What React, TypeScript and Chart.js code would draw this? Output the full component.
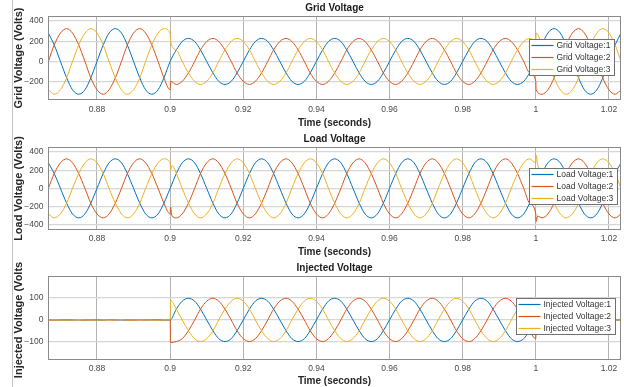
import React, { useEffect, useRef } from 'react';
import { Chart, registerables } from 'chart.js';

Chart.register(...registerables);

// ---------- data ----------
const timeS = [
  0.8667, 0.8683, 0.8700, 0.8717, 0.8733, 0.8750, 0.8767, 0.8783, 0.8800, 0.8817, 0.8833, 0.8850,
  0.8867, 0.8883, 0.8900, 0.8917, 0.8933, 0.8950, 0.8967, 0.8983, 0.9000, 0.9017, 0.9033, 0.9050,
  0.9067, 0.9083, 0.9100, 0.9117, 0.9133, 0.9150, 0.9167, 0.9183, 0.9200, 0.9217, 0.9233, 0.9250,
  0.9267, 0.9283, 0.9300, 0.9317, 0.9333, 0.9350, 0.9367, 0.9383, 0.9400, 0.9417, 0.9433, 0.9450,
  0.9467, 0.9483, 0.9500, 0.9517, 0.9533, 0.9550, 0.9567, 0.9583, 0.9600, 0.9617, 0.9633, 0.9650,
  0.9667, 0.9683, 0.9700, 0.9717, 0.9733, 0.9750, 0.9767, 0.9783, 0.9800, 0.9817, 0.9833, 0.9850,
  0.9867, 0.9883, 0.9900, 0.9917, 0.9933, 0.9950, 0.9967, 0.9983, 1.0000, 1.0017, 1.0033, 1.0050,
  1.0067, 1.0083, 1.0100, 1.0117, 1.0133, 1.0150, 1.0167, 1.0183, 1.0200, 1.0217, 1.0233,
];

const gridV1 = [
  281, 163, 0, -163, -281, -325, -281, -163, 0, 163, 281, 325,
  281, 163, 0, -163, -281, -325, -281, -163, 0,
  114, 197, 228, 197, 114, 0, -114, -197, -228, -197, -114, 0,
  114, 197, 228, 197, 114, 0, -114, -197, -228, -197, -114, 0,
  114, 197, 228, 197, 114, 0, -114, -197, -228, -197, -114, 0,
  114, 197, 228, 197, 114, 0, -114, -197, -228, -197, -114, 0,
  114, 197, 228, 197, 114, 0, -114, -197, -228, -197, -114, 0,
  163, 281, 325, 281, 163, 0, -163, -281, -325, -281, -163, 0, 163, 281,
];
const gridV2 = [
  0, 163, 281, 325, 281, 163, 0, -163, -281, -325, -281, -163,
  0, 163, 281, 325, 281, 163, 0, -163, -281,
  -228, -197, -114, 0, 114, 197, 228, 197, 114, 0, -114, -197,
  -228, -197, -114, 0, 114, 197, 228, 197, 114, 0, -114, -197,
  -228, -197, -114, 0, 114, 197, 228, 197, 114, 0, -114, -197,
  -228, -197, -114, 0, 114, 197, 228, 197, 114, 0, -114, -197,
  -228, -197, -114, 0, 114, 197, 228, 197, 114, 0, -114, -197,
  -325, -281, -163, 0, 163, 281, 325, 281, 163, 0, -163, -281, -325, -281,
];
const gridV3 = [
  -281, -325, -281, -163, 0, 163, 281, 325, 281, 163, 0, -163,
  -281, -325, -281, -163, 0, 163, 281, 325, 281,
  114, 0, -114, -197, -228, -197, -114, 0, 114, 197, 228, 197,
  114, 0, -114, -197, -228, -197, -114, 0, 114, 197, 228, 197,
  114, 0, -114, -197, -228, -197, -114, 0, 114, 197, 228, 197,
  114, 0, -114, -197, -228, -197, -114, 0, 114, 197, 228, 197,
  114, 0, -114, -197, -228, -197, -114, 0, 114, 197, 228, 197,
  163, 0, -163, -281, -325, -281, -163, 0, 163, 281, 325, 281, 163, 0,
];
const gridEvtT = [0.9001, 1.0001];
const gridEvtV2 = [-197, -281];
const gridEvtV3 = [197, 281];

const loadV1 = [
  281, 163, 0, -163, -281, -325, -281, -163, 0, 163, 281, 325,
  281, 163, 0, -163, -281, -325, -281, -163, 0, 163, 281, 325,
  281, 163, 0, -163, -281, -325, -281, -163, 0, 163, 281, 325,
  281, 163, 0, -163, -281, -325, -281, -163, 0, 163, 281, 325,
  281, 163, 0, -163, -281, -325, -281, -163, 0, 163, 281, 325,
  281, 163, 0, -163, -281, -325, -281, -163, 0, 163, 281, 325,
  281, 163, 0, -163, -281, -325, -281, -163, 0, 163, 281, 325,
  281, 163, 0, -163, -281, -325, -281, -163, 0, 163, 281,
];
const loadV2 = [
  0, 163, 281, 325, 281, 163, 0, -163, -281, -325, -281, -163,
  0, 163, 281, 325, 281, 163, 0, -163, -281, -325, -281, -163,
  0, 163, 281, 325, 281, 163, 0, -163, -281, -325, -281, -163,
  0, 163, 281, 325, 281, 163, 0, -163, -281, -325, -281, -163,
  0, 163, 281, 325, 281, 163, 0, -163, -281, -325, -281, -163,
  0, 163, 281, 325, 281, 163, 0, -163, -281, -325, -281, -163,
  0, 163, 281, 325, 281, 163, 0, -163, -281, -325, -281, -163,
  0, 163, 281, 325, 281, 163, 0, -163, -281, -325, -281,
];
const loadV3 = [
  -281, -325, -281, -163, 0, 163, 281, 325, 281, 163, 0, -163,
  -281, -325, -281, -163, 0, 163, 281, 325, 281, 163, 0, -163,
  -281, -325, -281, -163, 0, 163, 281, 325, 281, 163, 0, -163,
  -281, -325, -281, -163, 0, 163, 281, 325, 281, 163, 0, -163,
  -281, -325, -281, -163, 0, 163, 281, 325, 281, 163, 0, -163,
  -281, -325, -281, -163, 0, 163, 281, 325, 281, 163, 0, -163,
  -281, -325, -281, -163, 0, 163, 281, 325, 281, 163, 0, -163,
  -281, -325, -281, -163, 0, 163, 281, 325, 281, 163, 0,
];
const loadEvtT = [0.9001, 0.9005, 1.0001, 1.0005];
const loadEvtV2 = [-205, -300, -365, -305];
const loadEvtV3 = [200, 252, 365, 258];

const injV1 = [
  0, 1, 0, -1, 0, 1, 0, 0, -1, 0, 1, 0, 0, -1, 0, 1, 0, 0, -1, 0, 0,
  49, 85, 98, 85, 49, 0, -49, -85, -98, -85, -49, 0,
  49, 85, 98, 85, 49, 0, -49, -85, -98, -85, -49, 0,
  49, 85, 98, 85, 49, 0, -49, -85, -98, -85, -49, 0,
  49, 85, 98, 85, 49, 0, -49, -85, -98, -85, -49, 0,
  49, 85, 98, 85, 49, 0, -49, -85, -98, -85, -49, 0,
  0, 0, 0, 0, 0, 0, 0, 0, 0, 0, 0, 0, 0, 0,
];
const injV2 = [
  0, -1, 0, 1, 0, 0, -1, 0, 1, 0, 0, 0, 1, 0, -1, 0, 0, 1, 0, 0, 0,
  -98, -85, -49, 0, 49, 85, 98, 85, 49, 0, -49, -85,
  -98, -85, -49, 0, 49, 85, 98, 85, 49, 0, -49, -85,
  -98, -85, -49, 0, 49, 85, 98, 85, 49, 0, -49, -85,
  -98, -85, -49, 0, 49, 85, 98, 85, 49, 0, -49, -85,
  -98, -85, -49, 0, 49, 85, 98, 85, 49, 0, -49, -85,
  0, 0, 0, 0, 0, 0, 0, 0, 0, 0, 0, 0, 0, 0,
];
const injV3 = [
  0, 1, 0, -1, 0, 2, 0, 0, -1, 1, 0, 0, 2, -1, 0, 1, 0, 0, -2, 1, 0,
  49, 0, -49, -85, -98, -85, -49, 0, 49, 85, 98, 85,
  49, 0, -49, -85, -98, -85, -49, 0, 49, 85, 98, 85,
  49, 0, -49, -85, -98, -85, -49, 0, 49, 85, 98, 85,
  49, 0, -49, -85, -98, -85, -49, 0, 49, 85, 98, 85,
  49, 0, -49, -85, -98, -85, -49, 0, 49, 85, 98, 85,
  0, 0, 0, 0, 0, 0, 0, 0, 0, 0, 0, 0, 0, 0,
];
const injEvtT = [0.9001, 1.0001];
const injEvtV2 = [-102, 0];
const injEvtV3 = [88, 0];

const xTicks = [0.88, 0.9, 0.92, 0.94, 0.96, 0.98, 1.0, 1.02];
const gridYTicks = [-200, 0, 200, 400];
const loadYTicks = [-400, -200, 0, 200, 400];
const injYTicks = [-100, 0, 100];

const X_MIN = 0.8666;
const X_MAX = 1.0233;

// ---------- styling ----------
const FONT = '"Liberation Sans", Arial, Helvetica, sans-serif';
const COLORS = ['#0072BD', '#D95319', '#EDB120'];

type Pt = { x: number; y: number };
function toPoints(vals: number[], evtT: number[] = [], evtV: number[] = []): Pt[] {
  const pts: Pt[] = timeS.map((t, i) => ({ x: t, y: vals[i] }));
  evtT.forEach((t, i) => pts.push({ x: t, y: evtV[i] }));
  pts.sort((a, b) => a.x - b.x);
  return pts;
}

const decor = {
  id: 'decor',
  afterDraw(chart: any, _args: any, opts: any) {
    const { ctx, chartArea: a } = chart;
    ctx.save();
    // axes box
    const l = Math.round(a.left) + 0.5;
    const t = Math.round(a.top) + 0.5;
    const r = Math.round(a.right) - 0.5;
    const b = Math.round(a.bottom) - 0.5;
    ctx.strokeStyle = '#8a8a8a';
    ctx.lineWidth = 1;
    ctx.strokeRect(l, t, r - l, b - t);
    // title
    ctx.fillStyle = '#1a1a1a';
    ctx.font = 'bold 10px ' + FONT;
    ctx.textAlign = 'center';
    ctx.textBaseline = 'middle';
    ctx.fillText(opts.title, (a.left + a.right) / 2, a.top - 8);
    // legend
    ctx.font = '8.5px ' + FONT;
    const ds = chart.data.datasets;
    let maxW = 0;
    ds.forEach((d: any) => { maxW = Math.max(maxW, ctx.measureText(d.label).width); });
    const w = Math.round(27 + maxW + 4);
    const h = 36;
    const x0 = Math.round(a.right - opts.legendRight - w) + 0.5;
    const y0 = Math.round(a.top + opts.legendTop) + 0.5;
    ctx.fillStyle = '#ffffff';
    ctx.fillRect(x0, y0, w, h);
    ctx.strokeStyle = '#707070';
    ctx.lineWidth = 1;
    ctx.strokeRect(x0, y0, w, h);
    ctx.textAlign = 'left';
    for (let i = 0; i < ds.length; i++) {
      const yy = y0 + 6 + i * 12;
      ctx.beginPath();
      ctx.strokeStyle = COLORS[i];
      ctx.lineWidth = 1.2;
      ctx.moveTo(x0 + 2, yy);
      ctx.lineTo(x0 + 24, yy);
      ctx.stroke();
      ctx.fillStyle = '#333333';
      ctx.fillText(ds[i].label, x0 + 27, yy + 0.5);
    }
    ctx.restore();
  },
};

type PanelCfg = {
  title: string;
  yTitle: string;
  names: string[];
  data: Pt[][];
  yMin: number;
  yMax: number;
  yTicks: number[];
  top: number;
  height: number;
  padTop: number;
  plotBottom: number;
  tickPad: number;
  xTitlePad: number;
  legendTop: number;
  legendRight: number;
};

const panels: PanelCfg[] = [
  {
    title: 'Grid Voltage',
    yTitle: 'Grid Voltage (Volts)',
    names: ['Grid Voltage:1', 'Grid Voltage:2', 'Grid Voltage:3'],
    data: [toPoints(gridV1), toPoints(gridV2, gridEvtT, gridEvtV2), toPoints(gridV3, gridEvtT, gridEvtV3)],
    yMin: -382, yMax: 450, yTicks: gridYTicks,
    top: 0, height: 129, padTop: 16, plotBottom: 100, tickPad: 5, xTitlePad: 0,
    legendTop: 23, legendRight: 7,
  },
  {
    title: 'Load Voltage',
    yTitle: 'Load Voltage (Volts)',
    names: ['Load Voltage:1', 'Load Voltage:2', 'Load Voltage:3'],
    data: [toPoints(loadV1), toPoints(loadV2, loadEvtT, loadEvtV2), toPoints(loadV3, loadEvtT, loadEvtV3)],
    yMin: -455, yMax: 452, yTicks: loadYTicks,
    top: 128, height: 132, padTop: 19.3, plotBottom: 101.7, tickPad: 4, xTitlePad: 2,
    legendTop: 21, legendRight: 4,
  },
  {
    title: 'Injected Voltage',
    yTitle: 'Injected Voltage (Volts)',
    names: ['Injected Voltage:1', 'Injected Voltage:2', 'Injected Voltage:3'],
    data: [toPoints(injV1), toPoints(injV2, injEvtT, injEvtV2), toPoints(injV3, injEvtT, injEvtV3)],
    yMin: -183, yMax: 199, yTicks: injYTicks,
    top: 262, height: 125, padTop: 14, plotBottom: 98.3, tickPad: 3.5, xTitlePad: 0,
    legendTop: 22, legendRight: 6,
  },
];

function fmtX(v: number) {
  return String(Math.round(v * 100) / 100);
}
function fmtY(v: number) {
  return v < 0 ? '\u2212' + Math.abs(v) : String(v);
}

function Panel({ cfg }: { cfg: PanelCfg }) {
  const ref = useRef<HTMLCanvasElement>(null);
  useEffect(() => {
    const chart = new Chart(ref.current as HTMLCanvasElement, {
      type: 'line',
      data: {
        datasets: cfg.data.map((pts, i) => ({
          label: cfg.names[i],
          data: pts,
          borderColor: COLORS[i],
          backgroundColor: COLORS[i],
          borderWidth: 1,
          pointRadius: 0,
          fill: false,
          cubicInterpolationMode: 'monotone' as const,
          order: 2 - i,
        })),
      },
      options: {
        animation: false,
        responsive: false,
        maintainAspectRatio: false,
        events: [],
        layout: { padding: { top: cfg.padTop, right: 3, bottom: 0, left: 0 } },
        plugins: {
          legend: { display: false },
          title: { display: false },
          tooltip: { enabled: false },
          decor: { title: cfg.title, legendTop: cfg.legendTop, legendRight: cfg.legendRight },
        } as any,
        scales: {
          x: {
            type: 'linear',
            min: X_MIN,
            max: X_MAX,
            afterFit: (s: any) => { s.height = cfg.height - cfg.plotBottom; },
            afterBuildTicks: (s: any) => { s.ticks = xTicks.map((v) => ({ value: v })); },
            ticks: {
              callback: (v: any) => fmtX(Number(v)),
              font: { family: FONT, size: 8.5 },
              color: '#4a4a4a',
              padding: cfg.tickPad,
              maxRotation: 0,
              autoSkip: false,
            },
            grid: { color: '#b4b4b4', lineWidth: 1, drawTicks: false },
            border: { display: false },
            title: {
              display: true,
              text: 'Time (seconds)',
              font: { family: FONT, size: 10, weight: 'bold' },
              color: '#262626',
              padding: { top: 0, bottom: cfg.xTitlePad },
            },
          },
          y: {
            type: 'linear',
            min: cfg.yMin,
            max: cfg.yMax,
            afterFit: (s: any) => { s.width = 48; },
            afterBuildTicks: (s: any) => { s.ticks = cfg.yTicks.map((v) => ({ value: v })); },
            ticks: {
              callback: (v: any) => fmtY(Number(v)),
              font: { family: FONT, size: 8.5 },
              color: '#4a4a4a',
              padding: 4.5,
            },
            grid: { color: '#d6d6d6', lineWidth: 1.3, drawTicks: false },
            border: { display: false },
            title: {
              display: true,
              text: cfg.yTitle,
              font: { family: FONT, size: 11, weight: 'bold' },
              color: '#262626',
              padding: { top: 12.5, bottom: 0 },
            },
          },
        },
      } as any,
      plugins: [decor],
    });
    return () => chart.destroy();
  }, [cfg]);
  return (
    <canvas
      ref={ref}
      width={624}
      height={cfg.height}
      style={{ position: 'absolute', left: 0, top: cfg.top, width: 624, height: cfg.height }}
    />
  );
}

export default function App() {
  return (
    <div style={{ position: 'absolute', left: 0, top: 0, width: 624, height: 387, background: '#ffffff', overflow: 'hidden' }}>
      <div style={{ position: 'absolute', left: 12, top: 0, width: 1, height: 387, background: '#c4c4c4' }} />
      {panels.map((p) => (
        <Panel key={p.title} cfg={p} />
      ))}
    </div>
  );
}
